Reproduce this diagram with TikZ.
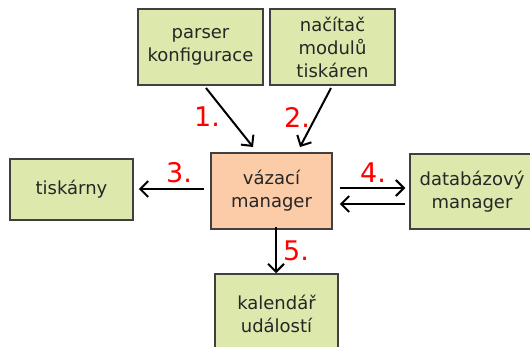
\documentclass[tikz,border=0pt]{standalone}
\usepackage{fontspec}
\setmainfont{DejaVu Sans}
\usetikzlibrary{arrows.meta}
\definecolor{boxgreen}{RGB}{221,232,173}
\definecolor{boxorange}{RGB}{252,203,167}
\definecolor{boxedge}{RGB}{64,64,64}
\begin{document}
\begin{tikzpicture}[x=1pt,y=-1pt,
  box/.style={draw=boxedge,line width=1.5pt,fill=boxgreen,inner sep=0pt,
    font=\fontsize{18}{23}\selectfont,text=black!85,align=center},
  flow/.style={draw=black,line width=2pt,-{Straight Barb[length=8pt,width=16pt,line width=2pt]}},
  num/.style={text=red,font=\fontsize{27}{30}\selectfont}]
\useasboundingbox (0,0) rectangle (530,347);
\clip (0,0) rectangle (530,347);
\node[box,minimum width=125pt,minimum height=76pt] (pk) at (200.5,47) {parser\\konfigurace};
\node[box,minimum width=125pt,minimum height=76pt] (nm) at (332.5,47) {načítač\\modulů\\tiskáren};
\node[box,fill=boxorange,minimum width=121pt,minimum height=76pt] (vm) at (271.5,191) {vázací\\manager};
\node[box,minimum width=123pt,minimum height=61pt] (ti) at (71.5,189.5) {tiskárny};
\node[box,minimum width=124pt,minimum height=75pt] (db) at (472,191.5) {databázový\\manager};
\node[box,minimum width=123pt,minimum height=80pt] (ka) at (276.5,314) {kalendář\\událostí};
\coordinate (a1s) at (206,88); \coordinate (a1e) at (253,147);
\coordinate (a2s) at (331,88); \coordinate (a2e) at (300,147);
\draw[flow] (a1s) -- (a1e);
\draw[flow] (a2s) -- (a2e);
\draw[flow] ([xshift=-6pt]vm.west |- 0,189) -- ([xshift=5pt]ti.east |- 0,189);
\draw[flow] ([xshift=7pt]vm.east |- 0,188) -- ([xshift=-4pt]db.west |- 0,188);
\draw[flow] ([xshift=-4pt]db.west |- 0,204) -- ([xshift=7pt]vm.east |- 0,204);
\draw[flow] ([yshift=3pt]vm.south -| 276,0) -- (ka.north -| 276,0);
\node[num] (n1) at (207,117) {1.};
\node[num] (n2) at (297,117) {2.};
\node[num] (n3) at (179,173) {3.};
\node[num] (n4) at (373,173) {4.};
\node[num] (n5) at (296,251) {5.};
\end{tikzpicture}
\end{document}
